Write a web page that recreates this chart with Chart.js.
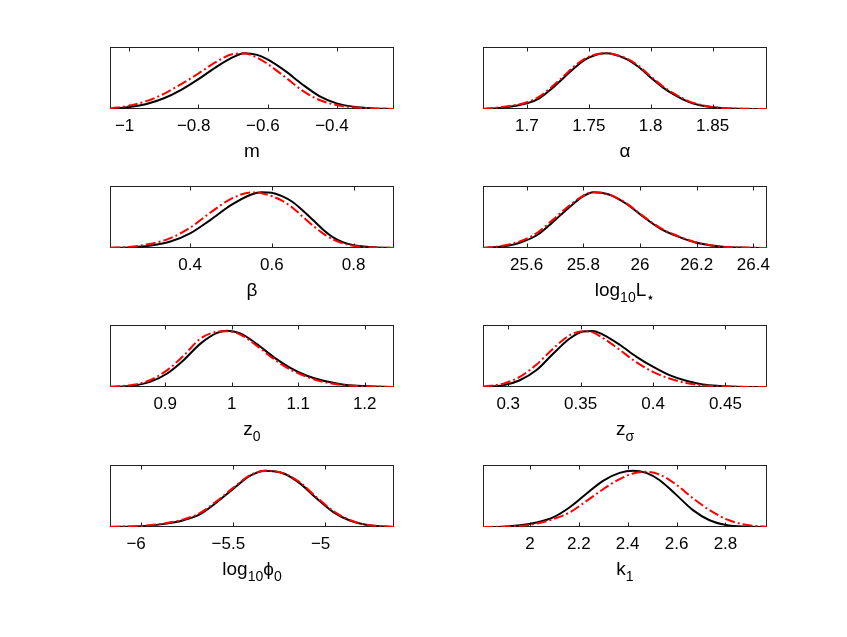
<!DOCTYPE html>
<html>
<head>
<meta charset="utf-8">
<script src="https://cdn.jsdelivr.net/npm/chart.js@4.4.1/dist/chart.umd.min.js"></script>
<style>
  body { margin: 0; background: #fff; width: 847px; height: 637px; position: relative; overflow: hidden;
         font-family: "Liberation Sans", Arial, sans-serif; }
  .panel { position: absolute; }
  .xlabel { position: absolute; text-align: center; font-size: 19px; line-height: 19px; color: #000; }
  .xlabel sub { font-size: 14px; vertical-align: -6px; line-height: 0; }
</style>
</head>
<body>
<script>
// m
const mX     = [-1.056, -1.0, -0.95, -0.9, -0.85, -0.8, -0.75, -0.7, -0.667, -0.63, -0.6, -0.55, -0.5, -0.45, -0.4, -0.35, -0.3, -0.234];
const mBlack = [0, 0.035, 0.09, 0.19, 0.34, 0.53, 0.74, 0.92, 0.99, 0.96, 0.88, 0.68, 0.44, 0.23, 0.10, 0.04, 0.012, 0];
const mRed   = [0.01, 0.06, 0.14, 0.27, 0.44, 0.63, 0.83, 0.975, 0.985, 0.91, 0.80, 0.57, 0.33, 0.16, 0.07, 0.03, 0.01, 0];
const mTicks = [-1, -0.8, -0.6, -0.4];
const mRange = [-1.056, -0.234];

// alpha
const aX     = [1.6645, 1.68, 1.70, 1.71, 1.72, 1.73, 1.74, 1.75, 1.764, 1.78, 1.79, 1.80, 1.81, 1.82, 1.83, 1.84, 1.85, 1.86, 1.87, 1.894];
const aBlack = [0, 0.024, 0.10, 0.19, 0.36, 0.56, 0.76, 0.91, 0.99, 0.89, 0.75, 0.56, 0.38, 0.24, 0.13, 0.065, 0.03, 0.012, 0.005, 0];
const aRed   = [0, 0.035, 0.12, 0.22, 0.39, 0.59, 0.79, 0.93, 0.99, 0.90, 0.77, 0.58, 0.40, 0.26, 0.145, 0.075, 0.035, 0.015, 0.006, 0];
const aTicks = [1.7, 1.75, 1.8, 1.85];
const aRange = [1.6645, 1.894];

// beta
const bX     = [0.204, 0.25, 0.30, 0.35, 0.40, 0.45, 0.50, 0.55, 0.575, 0.60, 0.625, 0.65, 0.675, 0.70, 0.725, 0.75, 0.775, 0.80, 0.85, 0.899];
const bBlack = [0, 0.01, 0.04, 0.11, 0.26, 0.50, 0.76, 0.95, 0.99, 0.98, 0.92, 0.82, 0.67, 0.50, 0.33, 0.19, 0.10, 0.05, 0.012, 0];
const bRed   = [0.005, 0.02, 0.07, 0.17, 0.36, 0.63, 0.87, 0.985, 0.97, 0.92, 0.84, 0.72, 0.56, 0.40, 0.26, 0.15, 0.08, 0.04, 0.01, 0];
const bTicks = [0.4, 0.6, 0.8];
const bRange = [0.204, 0.899];

// log10 L*
const lX     = [25.446, 25.52, 25.58, 25.64, 25.69, 25.75, 25.80, 25.835, 25.89, 25.95, 26.01, 26.07, 26.13, 26.19, 26.25, 26.30, 26.37, 26.448];
const lBlack = [0, 0.03, 0.10, 0.24, 0.45, 0.72, 0.92, 0.99, 0.95, 0.79, 0.56, 0.35, 0.21, 0.105, 0.045, 0.018, 0.006, 0];
const lRed   = [0, 0.045, 0.125, 0.28, 0.49, 0.75, 0.93, 0.99, 0.95, 0.80, 0.57, 0.36, 0.22, 0.11, 0.05, 0.02, 0.008, 0];
const lTicks = [25.6, 25.8, 26, 26.2, 26.4];
const lRange = [25.446, 26.448];

// z0
const zX     = [0.817, 0.852, 0.877, 0.903, 0.928, 0.953, 0.978, 0.993, 1.013, 1.038, 1.063, 1.088, 1.113, 1.138, 1.164, 1.189, 1.244];
const zBlack = [0, 0.024, 0.09, 0.24, 0.48, 0.77, 0.96, 1.0, 0.95, 0.76, 0.53, 0.34, 0.20, 0.11, 0.05, 0.02, 0];
const zRed   = [0.005, 0.04, 0.12, 0.30, 0.56, 0.86, 0.98, 0.99, 0.93, 0.73, 0.50, 0.31, 0.18, 0.09, 0.04, 0.017, 0];
const zTicks = [0.9, 1, 1.1, 1.2];
const zRange = [0.817, 1.244];

// z sigma
const sX     = [0.2826, 0.2966, 0.308, 0.3196, 0.331, 0.3425, 0.3517, 0.3585, 0.3654, 0.377, 0.3884, 0.3999, 0.4114, 0.4229, 0.4343, 0.4458, 0.4573, 0.4787];
const sBlack = [0, 0.03, 0.12, 0.30, 0.59, 0.86, 0.985, 0.995, 0.93, 0.75, 0.54, 0.36, 0.21, 0.11, 0.045, 0.018, 0.006, 0];
const sRed   = [0.01, 0.06, 0.18, 0.40, 0.68, 0.92, 0.99, 0.97, 0.87, 0.66, 0.44, 0.27, 0.15, 0.07, 0.03, 0.012, 0.004, 0];
const sTicks = [0.3, 0.35, 0.4, 0.45];
const sRange = [0.2826, 0.4787];

// log10 phi0
const pX     = [-6.167, -6.004, -5.859, -5.769, -5.678, -5.588, -5.498, -5.407, -5.326, -5.226, -5.136, -5.045, -4.955, -4.864, -4.774, -4.628];
const pBlack = [0, 0.012, 0.06, 0.12, 0.23, 0.44, 0.68, 0.91, 1.0, 0.95, 0.77, 0.50, 0.26, 0.11, 0.036, 0];
const pRed   = [0.003, 0.018, 0.07, 0.135, 0.25, 0.46, 0.70, 0.92, 1.0, 0.95, 0.79, 0.52, 0.28, 0.12, 0.04, 0];
const pTicks = [-6, -5.5, -5];
const pRange = [-6.167, -4.628];

// k1
const kX     = [1.808, 1.891, 1.959, 2.027, 2.095, 2.163, 2.231, 2.299, 2.367, 2.422, 2.476, 2.531, 2.599, 2.667, 2.735, 2.803, 2.871, 2.970];
const kBlack = [0, 0.006, 0.03, 0.08, 0.17, 0.35, 0.59, 0.82, 0.96, 1.0, 0.96, 0.83, 0.57, 0.30, 0.12, 0.035, 0.007, 0];
const kRed   = [0, 0.006, 0.02, 0.06, 0.14, 0.26, 0.46, 0.67, 0.85, 0.95, 0.98, 0.93, 0.75, 0.51, 0.30, 0.14, 0.05, 0];
const kTicks = [2, 2.2, 2.4, 2.6, 2.8];
const kRange = [1.808, 2.970];

const labels = ['m', 'α', 'β', 'log<sub>10</sub>L<sub>⋆</sub>', 'z<sub>0</sub>', 'z<sub>σ</sub>', 'log<sub>10</sub>ϕ<sub>0</sub>', 'k<sub>1</sub>'];

const panels = [
  [mX, mBlack, mRed, mTicks, mRange],
  [aX, aBlack, aRed, aTicks, aRange],
  [bX, bBlack, bRed, bTicks, bRange],
  [lX, lBlack, lRed, lTicks, lRange],
  [zX, zBlack, zRed, zTicks, zRange],
  [sX, sBlack, sRed, sTicks, sRange],
  [pX, pBlack, pRed, pTicks, pRange],
  [kX, kBlack, kRed, kTicks, kRange]
];

const colX = [110, 483];
const rowY = [47, 186, 325, 465];
const boxW = 284, boxH = 62;
const padL = 40, padT = 6, axisH = 34;
const font = '"Liberation Sans", Arial, sans-serif';

// box round the plot with inward tick marks, drawn under the curves
const boxPlugin = {
  id: 'box',
  beforeDatasetsDraw(chart) {
    const { ctx, chartArea: a, scales: { x } } = chart;
    ctx.save();
    ctx.strokeStyle = '#222';
    ctx.lineWidth = 1;
    const l = Math.round(a.left) + 0.5, r = Math.round(a.right) - 0.5;
    const t = Math.round(a.top) + 0.5, b = Math.round(a.bottom) - 0.5;
    ctx.strokeRect(l, t, r - l, b - t);
    ctx.beginPath();
    x.ticks.forEach(tk => {
      const px = Math.round(x.getPixelForValue(tk.value)) + 0.5;
      ctx.moveTo(px, b); ctx.lineTo(px, b - 4);
      ctx.moveTo(px, t); ctx.lineTo(px, t + 4);
    });
    ctx.stroke();
    ctx.restore();
  }
};

function fmt(v) {
  return v < 0 ? '\u2212' + String(-v) + '\u2007' : String(v);
}

panels.forEach(([xs, black, red, ticks, range], i) => {
  const col = i % 2, row = Math.floor(i / 2);
  const div = document.createElement('div');
  div.className = 'panel';
  div.style.left = (colX[col] - padL) + 'px';
  div.style.top = (rowY[row] - padT) + 'px';
  div.style.width = (boxW + 2 * padL) + 'px';
  div.style.height = (padT + boxH + axisH) + 'px';
  const canvas = document.createElement('canvas');
  div.appendChild(canvas);
  document.body.appendChild(div);

  const lab = document.createElement('div');
  lab.className = 'xlabel';
  lab.style.left = colX[col] + 'px';
  lab.style.width = boxW + 'px';
  lab.style.top = (rowY[row] + boxH + 32) + 'px';
  lab.innerHTML = labels[i];
  document.body.appendChild(lab);

  new Chart(canvas.getContext('2d'), {
    type: 'line',
    data: {
      datasets: [{
        data: xs.map((x, j) => ({ x: x, y: red[j] })),
        borderColor: '#ff0000',
        borderWidth: 2,
        borderDash: [10, 3, 2, 3],
        pointRadius: 0,
        cubicInterpolationMode: 'monotone',
        order: 0
      }, {
        data: xs.map((x, j) => ({ x: x, y: black[j] })),
        borderColor: '#000000',
        borderWidth: 2,
        pointRadius: 0,
        cubicInterpolationMode: 'monotone',
        order: 1
      }]
    },
    options: {
      animation: false,
      responsive: true,
      maintainAspectRatio: false,
      layout: { padding: { left: padL, right: padL, top: padT, bottom: 0 } },
      plugins: { legend: { display: false }, tooltip: { enabled: false } },
      scales: {
        x: {
          type: 'linear',
          min: range[0],
          max: range[1],
          grid: { display: false, drawTicks: false },
          border: { display: false },
          afterBuildTicks: s => { s.ticks = ticks.map(v => ({ value: v })); },
          afterFit: s => { s.height = axisH; },
          ticks: {
            color: '#000',
            font: { family: font, size: 17 },
            padding: 7,
            maxRotation: 0,
            autoSkip: false,
            callback: v => fmt(v)
          }
        },
        y: { display: false, min: 0, max: 1.1 }
      }
    },
    plugins: [boxPlugin]
  });
});
</script>
</body>
</html>
